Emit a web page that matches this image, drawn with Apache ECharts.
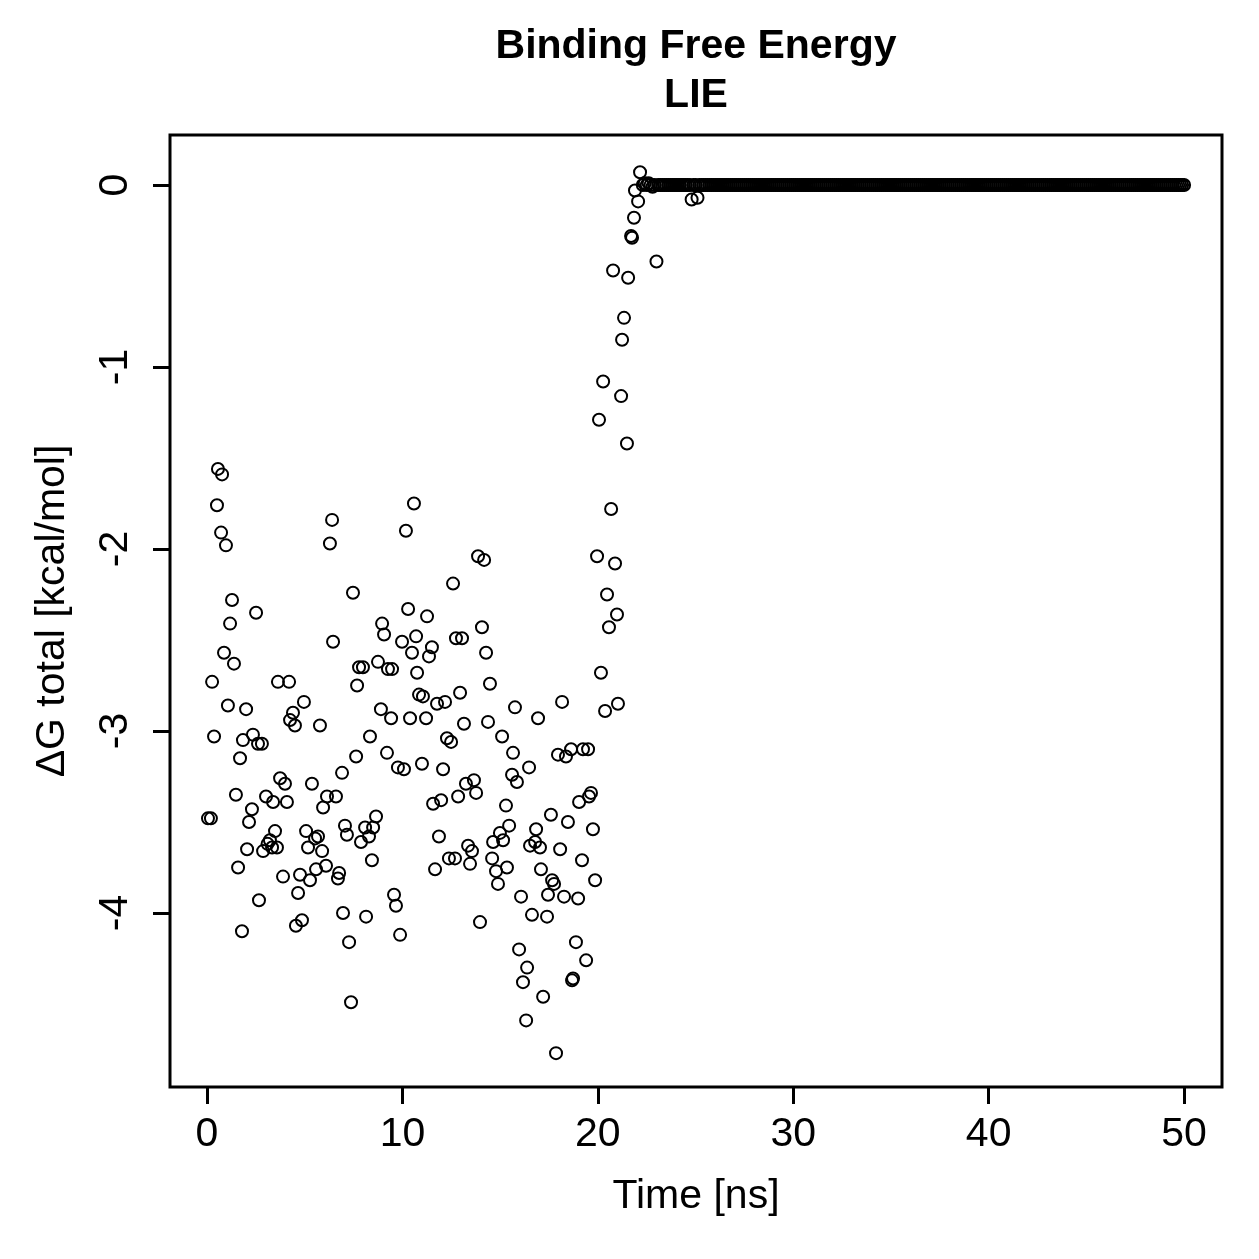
<!DOCTYPE html>
<html>
<head>
<meta charset="utf-8">
<script src="https://cdn.jsdelivr.net/npm/echarts@6/dist/echarts.min.js"></script>
<style>
html,body{margin:0;padding:0;background:#fff;}
#chart{width:1259px;height:1259px;}
</style>
</head>
<body>
<div id="chart"></div>
<script>
// ---- Data ----
// Scattered phase: time [ns] and ΔG total [kcal/mol]
const scatterTimes = [
0.05,0.20,0.26,0.36,0.51,0.56,0.72,0.77,0.87,0.97,
1.07,1.18,1.28,1.38,1.48,1.59,1.69,1.79,1.84,2.00,
2.05,2.15,2.30,2.35,2.51,2.61,2.66,2.81,2.87,3.02,
3.10,3.22,3.33,3.38,3.48,3.58,3.63,3.74,3.89,3.99,
4.09,4.20,4.25,4.40,4.50,4.55,4.66,4.76,4.86,4.96,
5.07,5.17,5.27,5.37,5.53,5.58,5.68,5.78,5.89,5.94,
6.09,6.14,6.29,6.40,6.45,6.60,6.70,6.76,6.91,6.96,
7.06,7.16,7.27,7.37,7.47,7.63,7.68,7.78,7.88,7.98,
8.09,8.14,8.29,8.34,8.44,8.50,8.65,8.75,8.90,8.96,
9.06,9.21,9.26,9.42,9.47,9.57,9.67,9.77,9.88,9.98,
10.08,10.18,10.29,10.39,10.49,10.59,10.70,10.75,10.85,11.00,
11.05,11.21,11.26,11.36,11.51,11.57,11.67,11.77,11.87,11.98,
12.08,12.18,12.28,12.38,12.49,12.59,12.69,12.74,12.85,12.95,
13.05,13.15,13.25,13.36,13.46,13.56,13.66,13.77,13.87,13.97,
14.07,14.18,14.28,14.38,14.48,14.59,14.64,14.79,14.89,14.99,
15.10,15.15,15.30,15.35,15.46,15.61,15.66,15.76,15.86,15.97,
16.07,16.17,16.33,16.38,16.48,16.53,16.63,16.79,16.84,16.94,
17.04,17.09,17.20,17.40,17.45,17.60,17.66,17.76,17.86,17.96,
18.07,18.17,18.27,18.37,18.47,18.63,18.68,18.73,18.88,18.99,
19.04,19.19,19.24,19.40,19.50,19.55,19.65,19.75,19.86,19.96,
20.06,20.16,20.27,20.37,20.47,20.57,20.68,20.78,20.88,20.98,
21.03,21.19,21.24,21.34,21.49,21.55,21.70,21.75,21.85,21.90,
22.06,22.16
];
const scatterValues = [
-3.48,-3.48,-2.73,-3.03,-1.76,-1.56,-1.91,-1.59,-2.57,-1.98,
-2.86,-2.41,-2.28,-2.63,-3.35,-3.75,-3.15,-4.10,-3.05,-2.88,
-3.65,-3.50,-3.43,-3.02,-2.35,-3.07,-3.93,-3.07,-3.66,-3.36,
-3.62,-3.60,-3.64,-3.39,-3.55,-3.64,-2.73,-3.26,-3.80,-3.29,
-3.39,-2.73,-2.94,-2.90,-2.97,-4.07,-3.89,-3.79,-4.04,-2.84,
-3.55,-3.64,-3.82,-3.29,-3.59,-3.76,-3.58,-2.97,-3.66,-3.42,
-3.74,-3.36,-1.97,-1.84,-2.51,-3.36,-3.81,-3.78,-3.23,-4.00,
-3.52,-3.57,-4.16,-4.49,-2.24,-3.14,-2.75,-2.65,-3.61,-2.65,
-3.53,-4.02,-3.58,-3.03,-3.71,-3.53,-3.47,-2.62,-2.88,-2.41,
-2.47,-3.12,-2.66,-2.93,-2.66,-3.90,-3.96,-3.20,-4.12,-2.51,
-3.21,-1.90,-2.33,-2.93,-2.57,-1.75,-2.48,-2.68,-2.80,-3.18,
-2.81,-2.93,-2.37,-2.59,-2.54,-3.40,-3.76,-2.85,-3.58,-3.38,
-3.21,-2.84,-3.04,-3.70,-3.06,-2.19,-3.70,-2.49,-3.36,-2.79,
-2.49,-2.96,-3.29,-3.63,-3.73,-3.66,-3.27,-3.34,-2.04,-4.05,
-2.43,-2.06,-2.57,-2.95,-2.74,-3.70,-3.61,-3.77,-3.84,-3.56,
-3.03,-3.60,-3.41,-3.75,-3.52,-3.24,-3.12,-2.87,-3.28,-4.20,
-3.91,-4.38,-4.59,-4.30,-3.20,-3.63,-4.01,-3.61,-3.54,-2.93,
-3.64,-3.76,-4.46,-4.02,-3.90,-3.46,-3.82,-3.84,-4.77,-3.13,
-3.65,-2.84,-3.91,-3.14,-3.50,-3.10,-4.37,-4.36,-4.16,-3.92,
-3.39,-3.71,-3.10,-4.26,-3.10,-3.36,-3.34,-3.54,-3.82,-2.04,
-1.29,-2.68,-1.08,-2.89,-2.25,-2.43,-1.78,-0.47,-2.08,-2.36,
-2.85,-1.16,-0.85,-0.73,-1.42,-0.51,-0.28,-0.29,-0.18,-0.03,
-0.09,0.07
];
// Plateau phase: sampled every 0.1 ns from 22.3 to 50 ns, ΔG = 0
const plateauStart = 22.3;
const plateauEnd = 50.0;
const plateauStep = 0.1;
const plateauLevel = 0;
// Points in the plateau phase that deviate from 0
const plateauOutlierTimes  = [22.4, 22.6, 22.8, 23.0, 24.8, 25.1];
const plateauOutlierValues = [0.01, 0.01, -0.01, -0.42, -0.08, -0.07];

const xTicks = [0, 10, 20, 30, 40, 50];
const yTicks = [0, -1, -2, -3, -4];

const titleText = 'Binding Free Energy\nLIE';
const xName = 'Time [ns]';
const yName = 'ΔG total [kcal/mol]';

// ---- Build series data ----
const points = [];
for (let i = 0; i < scatterTimes.length; i++) points.push([scatterTimes[i], scatterValues[i]]);
const nPlateau = Math.round((plateauEnd - plateauStart) / plateauStep);
for (let k = 0; k <= nPlateau; k++) {
  const t = +(plateauStart + k * plateauStep).toFixed(1);
  const j = plateauOutlierTimes.indexOf(t);
  points.push([t, j >= 0 ? plateauOutlierValues[j] : plateauLevel]);
}

const FONT = '"Liberation Sans", Arial, Helvetica, sans-serif';
const chart = echarts.init(document.getElementById('chart'), null, {renderer: 'canvas'});
chart.setOption({
  animation: false,
  backgroundColor: '#fff',
  title: {
    text: titleText,
    left: 696,
    textAlign: 'center',
    top: 22,
    padding: 0,
    textStyle: {fontFamily: FONT, fontWeight: 'bold', fontSize: 41, lineHeight: 49, color: '#000'}
  },
  grid: {
    left: 170, top: 135, width: 1052, height: 952,
    show: true, borderColor: '#000', borderWidth: 3, backgroundColor: 'transparent',
    containLabel: false, outerBoundsMode: 'none'
  },
  xAxis: {
    type: 'value', min: -1.894, max: 51.94,
    name: xName, nameLocation: 'middle', nameGap: 89,
    nameTextStyle: {fontFamily: FONT, fontSize: 41, color: '#000'},
    axisLine: {show: false, onZero: false},
    splitLine: {show: false},
    axisTick: {show: true, inside: false, length: 17, customValues: xTicks, lineStyle: {color: '#000', width: 3}},
    axisLabel: {show: true, margin: 27, customValues: xTicks, fontFamily: FONT, fontSize: 41, color: '#000'}
  },
  yAxis: {
    type: 'value', min: -4.956, max: 0.2747,
    name: yName, nameLocation: 'middle', nameGap: 97, nameRotate: 90,
    nameTextStyle: {fontFamily: FONT, fontSize: 41, color: '#000'},
    axisLine: {show: false, onZero: false},
    splitLine: {show: false},
    axisTick: {show: true, inside: false, length: 17, customValues: yTicks, lineStyle: {color: '#000', width: 3}},
    axisLabel: {show: true, margin: 34, rotate: 90, customValues: yTicks, fontFamily: FONT, fontSize: 41, color: '#000'}
  },
  series: [{
    type: 'scatter',
    data: points,
    symbol: 'circle',
    symbolSize: 12,
    itemStyle: {color: 'rgba(0,0,0,0)', borderColor: '#000', borderWidth: 2, opacity: 1},
    emphasis: {disabled: true},
    silent: true
  }]
});
</script>
</body>
</html>
